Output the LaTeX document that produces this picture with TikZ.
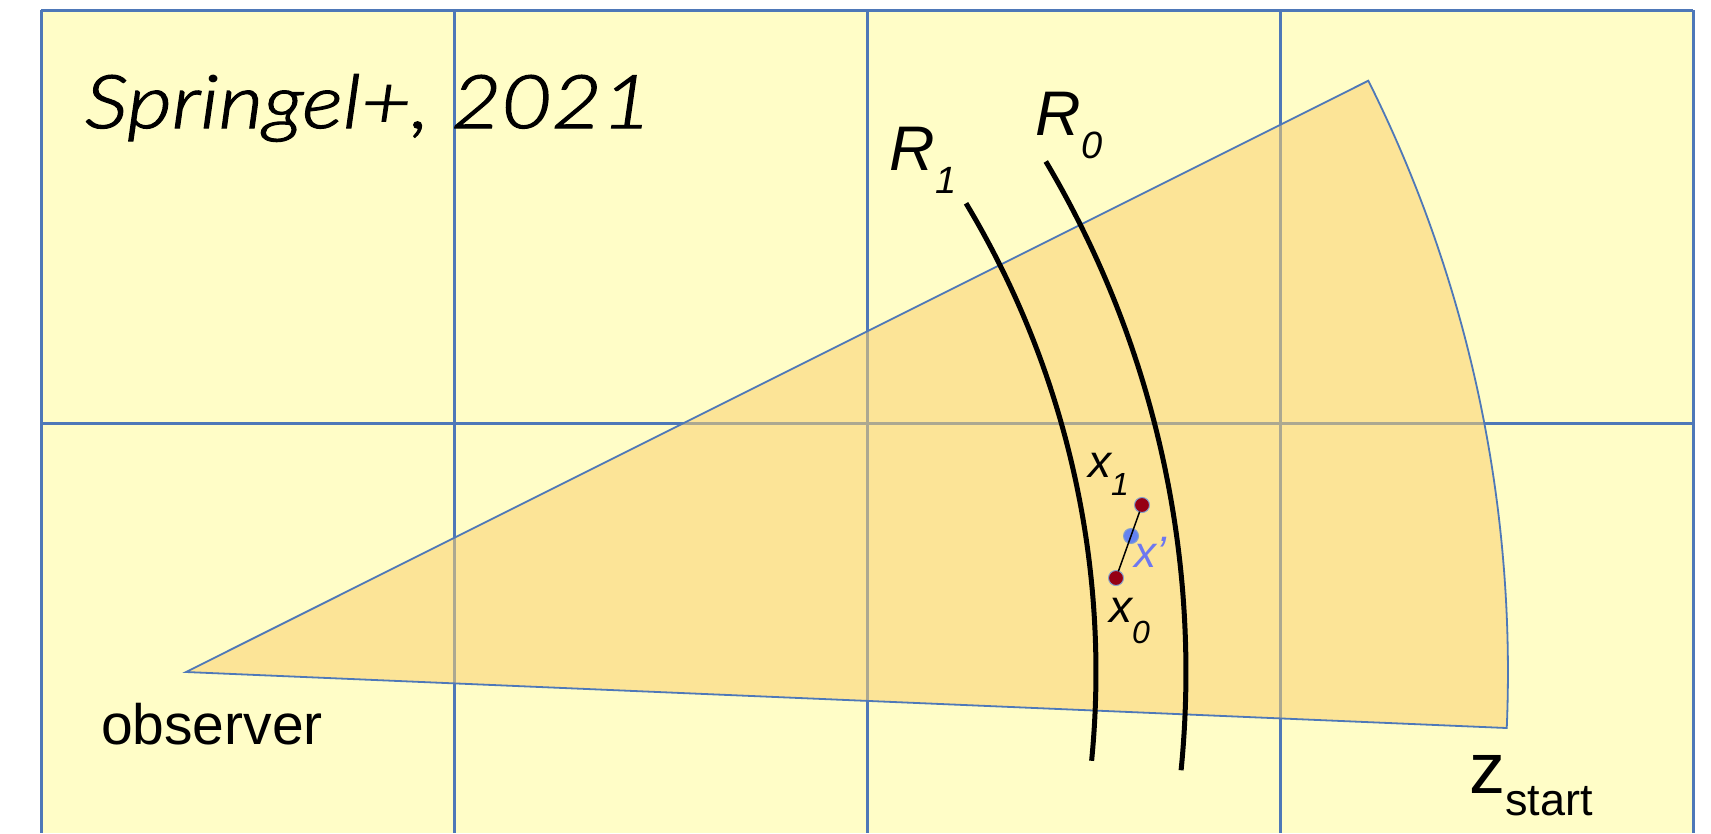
\documentclass[tikz,border=0pt]{standalone}
\usepackage{fontspec}
\setmainfont{Liberation Sans}
\IfFontExistsTF{Lato Light Italic}{\newfontfamily\titlefont{Lato Light Italic}[FakeBold=1.6]}{\newfontfamily\titlefont{Lato Italic}}
\definecolor{bgyellow}{RGB}{255,253,199}
\definecolor{gridblue}{RGB}{78,120,184}
\definecolor{conefill}{RGB}{250,208,113}
\definecolor{dotred}{RGB}{150,0,20}
\definecolor{dotblue}{RGB}{100,130,240}
\definecolor{primeblue}{RGB}{110,120,240}
\tikzset{
  gridline/.style={draw=gridblue, line width=3pt},
  conestyle/.style={fill=conefill, fill opacity=0.55, draw=gridblue, draw opacity=1, line width=1.8pt},
  shell/.style={draw=black, line width=5pt},
  lbl/.style={inner sep=0pt, outer sep=0pt, anchor=base west},
  ptdot/.style={circle, inner sep=0pt, minimum size=15pt, draw=gridblue!70, line width=1pt},
}
\begin{document}
\begin{tikzpicture}[x=1pt,y=1pt]
\useasboundingbox (0,0) rectangle (1711,-833);
\fill[white] (0,0) rectangle (1711,-833);
% yellow background
\fill[bgyellow] (41,-10) rectangle (1693,-833);
% grid
\foreach \gx in {41,454,867,1280,1693} {
  \draw[gridline] (\gx,-10) -- (\gx,-833);
}
\foreach \gy in {10,423} {
  \draw[gridline] (41,-\gy) -- (1693,-\gy);
}
% observer cone
\coordinate (O) at (186,-672);
\path[conestyle] (O) -- ++(26.57:1322pt) arc[start angle=26.57, end angle=-2.43, radius=1322pt] -- cycle;
% shells R1 and R0
\draw[shell] (O) ++(31.0:910pt) arc[start angle=31.0, end angle=-5.6, radius=910pt];
\draw[shell] (O) ++(30.7:1000pt) arc[start angle=30.7, end angle=-5.64, radius=1000pt];
% points
\node[ptdot, fill=dotred] (x1) at (1142,-505) {};
\node[ptdot, fill=dotblue] (xp) at (1131,-536) {};
\node[ptdot, fill=dotred] (x0) at (1116,-578) {};
\draw[black, line width=1.5pt, shorten >=7pt, shorten <=7pt] (x0.center) -- (x1.center);
% labels
\node[lbl] (title) at (85,-128) {\scalebox{1.17}[1]{\titlefont\fontsize{74}{80}\selectfont Springel+, 2021}};
\node[lbl] (obs) at (101,-744) {\fontsize{57}{60}\selectfont observer};
\node[lbl] (zs) at (1469,-793) {\fontsize{72}{76}\selectfont z\raisebox{-22pt}{\fontsize{45}{48}\selectfont start}};
\node[lbl] (R1) at (889,-170) {\fontsize{63}{66}\selectfont\itshape R\kern1pt\raisebox{-23pt}{\fontsize{38}{40}\selectfont 1}};
\node[lbl] (R0) at (1035,-135) {\fontsize{63}{66}\selectfont\itshape R\kern1pt\raisebox{-23pt}{\fontsize{38}{40}\selectfont 0}};
\node[lbl] (lx1) at (1088,-477) {\fontsize{46}{48}\selectfont\itshape x\raisebox{-18pt}{\fontsize{32}{34}\selectfont 1}};
\node[lbl] (lx0) at (1109,-622) {\fontsize{46}{48}\selectfont\itshape x\raisebox{-21pt}{\fontsize{32}{34}\selectfont 0}};
\node[lbl, text=primeblue] (lxp) at (1134,-567) {\fontsize{44}{46}\selectfont\itshape x\symbol{39}};
\end{tikzpicture}
\end{document}
